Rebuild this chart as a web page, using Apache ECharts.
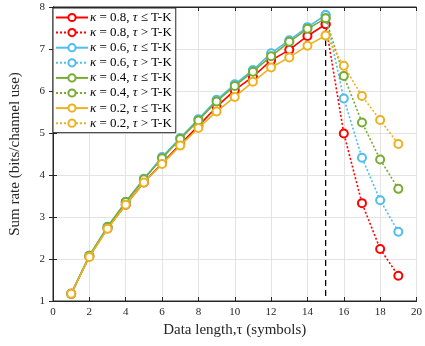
<!DOCTYPE html>
<html><head><meta charset="utf-8">
<script src="https://cdn.jsdelivr.net/npm/echarts@6/dist/echarts.min.js"></script>
<style>html,body{margin:0;padding:0;background:#fff}#c{width:425px;height:346px}</style>
</head><body><div id="c"></div>
<script>
const tauLow = [1,2,3,4,5,6,7,8,9,10,11,12,13,14,15];
const tauHigh = [15,16,17,18,19];
const kappas = ['0.8','0.6','0.4','0.2'];
const colors = ['#FF0000','#4DBEEE','#77AC30','#EDB120'];
const lowRed    = [1.17,2.06,2.73,3.29,3.82,4.28,4.73,5.17,5.62,6.02,6.34,6.73,6.98,7.31,7.59];
const lowBlue   = [1.17,2.08,2.77,3.36,3.91,4.43,4.88,5.33,5.79,6.16,6.50,6.90,7.21,7.52,7.81];
const lowGreen  = [1.17,2.08,2.76,3.36,3.90,4.40,4.86,5.30,5.75,6.12,6.46,6.83,7.17,7.48,7.73];
const lowOrange = [1.17,2.05,2.72,3.29,3.82,4.26,4.70,5.12,5.51,5.86,6.22,6.56,6.80,7.08,7.32];
const highRed    = [7.59,4.99,3.33,2.24,1.60];
const highBlue   = [7.81,5.82,4.41,3.40,2.65];
const highGreen  = [7.73,6.36,5.25,4.37,3.67];
const highOrange = [7.32,6.60,5.88,5.31,4.74];
const xTicks = [0,2,4,6,8,10,12,14,16,18,20];
const yTicks = [1,2,3,4,5,6,7,8];
const dashX = [15,15];
const dashY = [1.12,8];

const lows = [lowRed,lowBlue,lowGreen,lowOrange];
const highs = [highRed,highBlue,highGreen,highOrange];
const zip = (xs, ys) => xs.map((x,i)=>[x, ys[i]]);
const series = [];
const names = [];
for (let k=0;k<4;k++){
  const n1 = 'k'+kappas[k]+'le', n2 = 'k'+kappas[k]+'gt';
  names.push(n1, n2);
  series.push({
    name:n1, type:'line', data:zip(tauLow,lows[k]), symbol:'emptyCircle', symbolSize:8,
    color:colors[k], lineStyle:{width:1.6,color:colors[k]},
    itemStyle:{color:colors[k],borderWidth:1.6,borderColor:colors[k]}, z:3+k
  });
  series.push({
    name:n2, type:'line', data:zip(tauHigh,highs[k]), symbol:'emptyCircle', symbolSize:8,
    color:colors[k], lineStyle:{width:1.6,type:[2,2],color:colors[k]},
    itemStyle:{color:colors[k],borderWidth:1.6,borderColor:colors[k]}, z:3+k
  });
}
series.push({
  name:'dash', type:'line', data:zip(dashX,dashY), symbol:'none',
  lineStyle:{color:'#000',width:1.3,type:[6,4]}, z:2, silent:true
});

const labelMap = {};
for (let k=0;k<4;k++){
  labelMap['k'+kappas[k]+'le'] = '{i|κ} = '+kappas[k]+', {i|τ} ≤ T-K';
  labelMap['k'+kappas[k]+'gt'] = '{i|κ} = '+kappas[k]+', {i|τ} > T-K';
}
const serif = 'Liberation Serif, DejaVu Serif, serif';
const chart = echarts.init(document.getElementById('c'), null, {renderer:'canvas'});
chart.setOption({
  animation:false,
  backgroundColor:'#fff',
  grid:{left:47,right:6,top:7,bottom:45,show:true,borderColor:'#262626',borderWidth:1,backgroundColor:'transparent'},
  legend:{
    data:names, orient:'vertical', left:53, top:8,
    itemWidth:32, itemHeight:9, itemGap:2.1,
    backgroundColor:'#fff', borderColor:'#262626', borderWidth:1, padding:[3,4,3,2],
    formatter: n => labelMap[n],
    textStyle:{fontFamily:serif,fontSize:13,lineHeight:13,color:'#000',padding:[0,0,0,-3],
      rich:{i:{fontFamily:serif,fontStyle:'italic',fontSize:13,lineHeight:13,color:'#000'}}}
  },
  xAxis:[{
    type:'value', min:0, max:20, interval:2,
    name:'Data length,τ (symbols)', nameLocation:'middle', nameGap:22,
    nameTextStyle:{fontFamily:serif,fontSize:15,color:'#262626'},
    axisLine:{lineStyle:{color:'#262626'}},
    axisTick:{inside:true,length:4,lineStyle:{color:'#262626'}},
    axisLabel:{fontFamily:serif,fontSize:11,color:'#262626',margin:6},
    splitLine:{show:true,lineStyle:{color:'#e3e3e3',width:1}}
  },{
    type:'value', min:0, max:20, interval:2, position:'top',
    axisLine:{lineStyle:{color:'#262626'}},
    axisTick:{inside:true,length:4,lineStyle:{color:'#262626'}},
    axisLabel:{show:false}, splitLine:{show:false}
  }],
  yAxis:[{
    type:'value', min:1, max:8, interval:1,
    name:'Sum rate (bits/channel use)', nameLocation:'middle', nameGap:30,
    nameTextStyle:{fontFamily:serif,fontSize:15,color:'#262626'},
    axisLine:{show:true,lineStyle:{color:'#262626'}},
    axisTick:{show:true,inside:true,length:4,lineStyle:{color:'#262626'}},
    axisLabel:{fontFamily:serif,fontSize:11,color:'#262626',margin:8},
    splitLine:{show:true,lineStyle:{color:'#e3e3e3',width:1}}
  },{
    type:'value', min:1, max:8, interval:1, position:'right',
    axisLine:{show:true,lineStyle:{color:'#262626'}},
    axisTick:{show:true,inside:true,length:4,lineStyle:{color:'#262626'}},
    axisLabel:{show:false}, splitLine:{show:false}
  }],
  series: series
});
</script></body></html>
